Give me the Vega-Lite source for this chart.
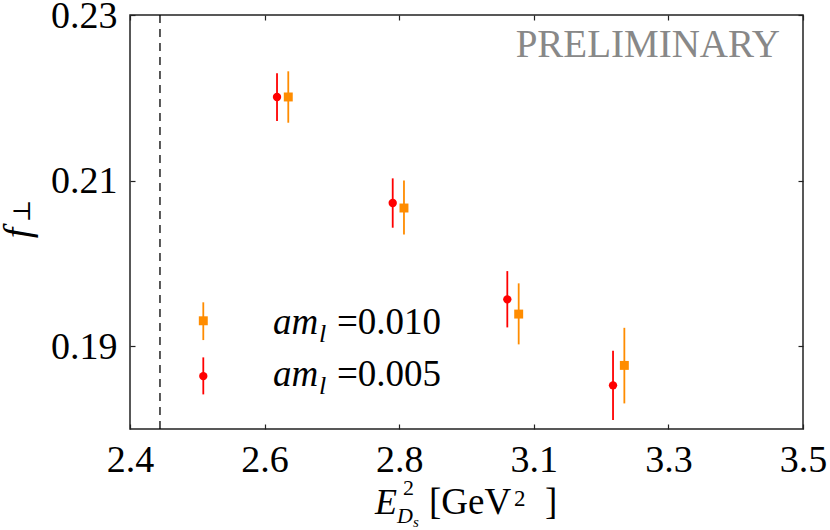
{
  "$schema": "https://vega.github.io/schema/vega-lite/v6.json",
  "width": 673,
  "height": 414,
  "autosize": "none",
  "padding": {"left": 130, "top": 15, "right": 27, "bottom": 101},
  "background": "white",
  "config": {
    "font": "Liberation Serif, Times New Roman, serif",
    "view": {"stroke": "#222", "strokeWidth": 1.5},
    "axis": {
      "domain": false,
      "grid": false,
      "title": null,
      "tickSize": -5,
      "tickColor": "#222",
      "tickWidth": 1.2,
      "labelFont": "Liberation Serif, Times New Roman, serif",
      "labelFontSize": 38,
      "labelColor": "black",
      "labelFlush": false,
      "labelOverlap": false
    },
    "text": {"font": "Liberation Serif, Times New Roman, serif", "color": "black"}
  },
  "datasets": {
    "pts": [
      {"x": 2.6403, "f": 0.22009, "lo": 0.2172, "hi": 0.22296, "aml": "0.005"},
      {"x": 2.8294, "f": 0.20729, "lo": 0.20431, "hi": 0.21027, "aml": "0.005"},
      {"x": 3.0167, "f": 0.19566, "lo": 0.19227, "hi": 0.19907, "aml": "0.005"},
      {"x": 3.1895, "f": 0.18527, "lo": 0.18108, "hi": 0.18945, "aml": "0.005"},
      {"x": 2.6587, "f": 0.2201, "lo": 0.21699, "hi": 0.2232, "aml": "0.010"},
      {"x": 2.8478, "f": 0.20669, "lo": 0.2035, "hi": 0.21, "aml": "0.010"},
      {"x": 3.0353, "f": 0.19388, "lo": 0.19022, "hi": 0.19759, "aml": "0.010"},
      {"x": 3.208, "f": 0.18768, "lo": 0.18309, "hi": 0.19222, "aml": "0.010"},
      {"x": 2.5198, "f": 0.19307, "lo": 0.19074, "hi": 0.1953, "aml": "0.010"},
      {"x": 2.5198, "f": 0.18639, "lo": 0.18418, "hi": 0.18865, "aml": "0.005"}
    ],
    "key": [
      {"x": 2.6337, "y": 0.19147, "label": "=0.010"},
      {"x": 2.6337, "y": 0.18519, "label": "=0.005"}
    ],
    "xtitle": [{"x": 2.8005, "y": 0.16974}],
    "ytitle": [{"x": 2.2366, "y": 0.20367}],
    "note": [{"x": 3.4624, "y": 0.22493, "text": "PRELIMINARY"}],
    "threshold": [{"x": 2.449}]
  },
  "layer": [
    {
      "data": {"name": "threshold"},
      "mark": {"type": "rule", "color": "black", "strokeWidth": 1.3, "strokeDash": [8, 6]},
      "encoding": {
        "x": {"field": "x", "type": "quantitative", "scale": {"domain": [2.4, 3.5], "nice": false}, "axis": null}
      }
    },
    {
      "data": {"name": "pts"},
      "mark": {"type": "rule", "strokeWidth": 1.8},
      "encoding": {
        "x": {
          "field": "x", "type": "quantitative",
          "scale": {"domain": [2.4, 3.5], "nice": false},
          "axis": {"orient": "bottom", "values": [2.4, 2.62, 2.84, 3.06, 3.28, 3.5], "format": ".1f", "labelPadding": 17}
        },
        "y": {
          "field": "lo", "type": "quantitative",
          "scale": {"domain": [0.18, 0.23], "nice": false, "zero": false},
          "axis": {"orient": "left", "values": [0.19, 0.21, 0.23], "format": ".2f", "labelPadding": 18, "labelOffset": 1}
        },
        "y2": {"field": "hi"},
        "color": {
          "field": "aml", "type": "nominal",
          "scale": {"domain": ["0.005", "0.010"], "range": ["#ff0000", "#ff8c00"]},
          "legend": null
        }
      }
    },
    {
      "data": {"name": "pts"},
      "transform": [{"filter": "datum.aml == '0.005'"}],
      "mark": {"type": "point", "shape": "circle", "filled": true, "opacity": 1, "size": 70, "color": "#ff0000"},
      "encoding": {
        "x": {
          "field": "x", "type": "quantitative",
          "scale": {"domain": [2.4, 3.5], "nice": false},
          "axis": {"orient": "top", "values": [2.4, 2.62, 2.84, 3.06, 3.28, 3.5], "labels": false}
        },
        "y": {
          "field": "f", "type": "quantitative",
          "scale": {"domain": [0.18, 0.23], "nice": false, "zero": false},
          "axis": {"orient": "right", "values": [0.19, 0.21, 0.23], "labels": false}
        }
      }
    },
    {
      "data": {"name": "pts"},
      "transform": [{"filter": "datum.aml == '0.010'"}],
      "mark": {"type": "point", "shape": "square", "filled": true, "opacity": 1, "size": 80, "color": "#ff8c00"},
      "encoding": {
        "x": {"field": "x", "type": "quantitative", "scale": {"domain": [2.4, 3.5], "nice": false}, "axis": null},
        "y": {"field": "f", "type": "quantitative", "scale": {"domain": [0.18, 0.23], "nice": false, "zero": false}, "axis": null}
      }
    },
    {
      "data": {"name": "key"},
      "layer": [
        {"mark": {"type": "text", "text": "am", "fontStyle": "italic", "fontSize": 37, "align": "left", "baseline": "alphabetic"}},
        {"mark": {"type": "text", "text": "l", "fontStyle": "italic", "fontSize": 26, "align": "left", "baseline": "alphabetic", "dx": 46, "dy": 8}},
        {
          "mark": {"type": "text", "fontSize": 37, "align": "left", "baseline": "alphabetic", "dx": 64},
          "encoding": {"text": {"field": "label"}}
        }
      ],
      "encoding": {
        "x": {"field": "x", "type": "quantitative", "axis": null},
        "y": {"field": "y", "type": "quantitative", "axis": null}
      }
    },
    {
      "data": {"name": "xtitle"},
      "layer": [
        {"mark": {"type": "text", "text": "E", "fontStyle": "italic", "fontSize": 36, "align": "left", "baseline": "alphabetic"}},
        {"mark": {"type": "text", "text": "2", "fontSize": 22, "align": "left", "baseline": "alphabetic", "dx": 28, "dy": -19}},
        {"mark": {"type": "text", "text": "D", "fontStyle": "italic", "fontSize": 22, "align": "left", "baseline": "alphabetic", "dx": 22, "dy": 9}},
        {"mark": {"type": "text", "text": "s", "fontStyle": "italic", "fontSize": 15, "align": "left", "baseline": "alphabetic", "dx": 38, "dy": 13}},
        {"mark": {"type": "text", "text": "[GeV", "fontSize": 37, "align": "left", "baseline": "alphabetic", "dx": 54}},
        {"mark": {"type": "text", "text": "2", "fontSize": 23, "align": "left", "baseline": "alphabetic", "dx": 139, "dy": -8}},
        {"mark": {"type": "text", "text": "]", "fontSize": 37, "align": "left", "baseline": "alphabetic", "dx": 170}}
      ],
      "encoding": {
        "x": {"field": "x", "type": "quantitative", "axis": null},
        "y": {"field": "y", "type": "quantitative", "axis": null}
      }
    },
    {
      "data": {"name": "ytitle"},
      "layer": [
        {"mark": {"type": "text", "text": "f", "fontStyle": "italic", "fontSize": 38, "angle": 270, "align": "center", "baseline": "alphabetic"}},
        {"mark": {"type": "text", "text": "⊥", "font": "DejaVu Serif", "fontSize": 24, "angle": 270, "align": "center", "baseline": "alphabetic", "dx": 22, "dy": 0}}
      ],
      "encoding": {
        "x": {"field": "x", "type": "quantitative", "axis": null},
        "y": {"field": "y", "type": "quantitative", "axis": null}
      }
    },
    {
      "data": {"name": "note"},
      "mark": {"type": "text", "fontSize": 39, "align": "right", "baseline": "alphabetic", "color": "#888888"},
      "encoding": {
        "x": {"field": "x", "type": "quantitative", "axis": null},
        "y": {"field": "y", "type": "quantitative", "axis": null},
        "text": {"field": "text"}
      }
    }
  ],
  "resolve": {"axis": {"x": "independent", "y": "independent"}}
}
